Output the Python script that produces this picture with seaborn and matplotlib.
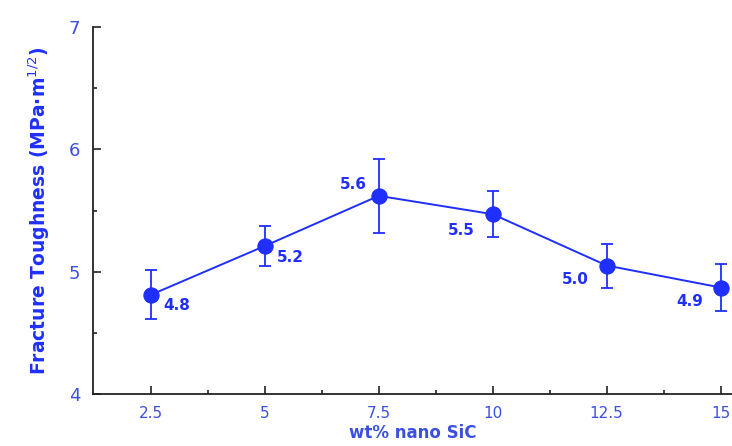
import matplotlib
matplotlib.use("Agg")
import matplotlib.pyplot as plt
import seaborn as sns
import pandas as pd

# data
sic_wt = [2.5, 5, 7.5, 10, 12.5, 15]
toughness = [4.81, 5.21, 5.62, 5.47, 5.05, 4.87]
err = [0.2, 0.16, 0.3, 0.19, 0.18, 0.19]
point_labels = ["4.8", "5.2", "5.6", "5.5", "5.0", "4.9"]
x_ticks = [2.5, 5, 7.5, 10, 12.5, 15]
x_ticklabels = ["2.5", "5", "7.5", "10", "12.5", "15"]
y_ticks = [4, 5, 6, 7]

blue = "#1f2fff"
txt_blue = "#3b4fe0"

sns.set_style("white")
plt.rcParams['font.family'] = ['DejaVu Sans']

df = pd.DataFrame({'x': sic_wt, 'y': toughness})

fig = plt.figure(figsize=(7.32, 4.46), dpi=100)
ax = fig.add_axes([0.127, 0.117, 0.873, 0.822])

ax.errorbar(sic_wt, toughness, yerr=err, fmt='none', ecolor=blue, elinewidth=1.3, capsize=4, capthick=1.3, zorder=2)
sns.lineplot(data=df, x='x', y='y', color=blue, linewidth=1.4, marker='o', markersize=11,
             markeredgecolor=blue, markerfacecolor=blue, ax=ax, zorder=3)

# value labels next to points (offsets in points)
offs = [(9, -8), (9, -8), (-28, 8), (-32, -12), (-32, -10), (-32, -10)]
for xv, yv, lab, (dx, dy) in zip(sic_wt, toughness, point_labels, offs):
    ax.annotate(lab, (xv, yv), xytext=(dx, dy), textcoords='offset points',
                color=blue, fontsize=11, fontweight='bold', va='center', ha='left')

ax.set_xlim(1.23, 15.25)
ax.set_ylim(4, 7)
ax.set_xticks(x_ticks)
ax.set_xticklabels(x_ticklabels)
ax.set_yticks(y_ticks)
ax.set_xticks([3.75, 6.25, 8.75, 11.25, 13.75], minor=True)
ax.set_yticks([4.5, 5.5, 6.5], minor=True)
ax.tick_params(axis='both', which='both', left=True, bottom=True)
ax.tick_params(axis='both', which='major', direction='in', length=6, width=1.2,
               colors='#222222', labelcolor=txt_blue, labelsize=11)
ax.tick_params(axis='both', which='minor', direction='in', length=3, width=1.2, colors='#222222')
ax.tick_params(axis='x', pad=9)
ax.tick_params(axis='y', pad=9, labelsize=13)

for s in ['top', 'right']:
    ax.spines[s].set_visible(False)
for s in ['left', 'bottom']:
    ax.spines[s].set_color('#222222')
    ax.spines[s].set_linewidth(1.3)

ax.set_xlabel("wt% nano SiC", color=txt_blue, fontsize=12, fontweight='bold', labelpad=2)
ax.set_ylabel("Fracture Toughness (MPa·m$^{1/2}$)", color=blue, fontsize=13.5, fontweight='bold', labelpad=12)

fig.savefig("out.png", dpi=100)
